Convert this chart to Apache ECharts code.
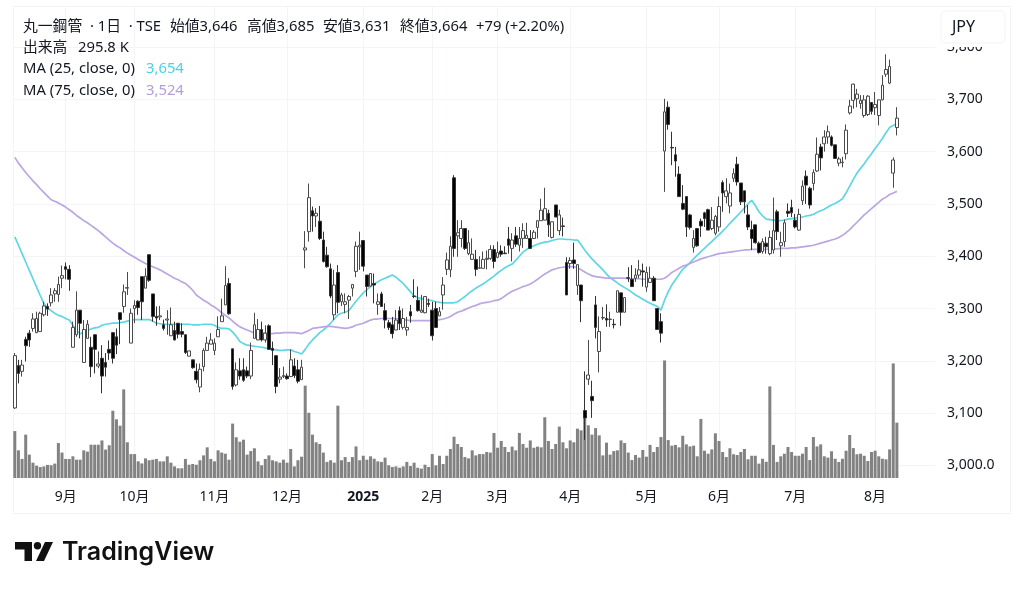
<!DOCTYPE html>
<html>
<head>
    <meta charset="utf-8">
    <title>丸一鋼管 日足</title>
    <script src="https://cdn.jsdelivr.net/npm/echarts@6/dist/echarts.min.js"></script>
    <style>
        html, body { margin: 0; padding: 0; background: #fff; }
    </style>
</head>
<body>
    <div id="main" style="width:1024px;height:590px;"></div>
    <script type="text/javascript">
        // 四本値（左から右へ1本ずつ、図から読み取り）
        var opens = [3110,3191,3180,3241,3253,3262,3254,3256,3288,3304,3311,3328,3327,3358,3380,3375,3226,3250,3297,3197,
            3243,3226,3250,3190,3205,3197,3222,3254,3246,3292,3304,3339,3234,3300,3314,3361,3339,3403,3328,3285,
            3284,3269,3278,3248,3258,3272,3256,3250,3209,3202,3180,3150,3189,3220,3232,3220,3246,3275,3307,3348,
            3223,3154,3181,3183,3181,3171,3243,3240,3260,3240,3267,3224,3210,3165,3170,3171,3170,3190,3183,3164,
            3412,3447,3487,3477,3467,3431,3402,3376,3288,3369,3313,3308,3316,3339,3371,3418,3430,3364,3343,3348,
            3308,3328,3296,3273,3269,3259,3296,3264,3259,3294,3324,3316,3293,3292,3310,3297,3300,3286,3326,3375,
            3374,3550,3439,3434,3453,3405,3394,3394,3377,3377,3394,3396,3413,3398,3410,3406,3433,3415,3439,3421,
            3434,3434,3434,3434,3455,3468,3469,3482,3436,3498,3449,3458,3388,3386,3393,3344,3345,3105,3165,3132,
            3307,3218,3282,3281,3279,3270,3293,3330,3293,3359,3356,3358,3364,3372,3341,3350,3358,3300,3275,3601,
            3685,3608,3594,3557,3501,3514,3479,3417,3453,3467,3483,3489,3453,3444,3456,3541,3514,3496,3549,3576,
            3540,3525,3479,3451,3460,3425,3409,3425,3405,3412,3485,3420,3428,3486,3493,3469,3450,3506,3553,3530,
            3539,3563,3609,3615,3628,3628,3613,3578,3579,3596,3674,3698,3701,3692,3669,3671,3694,3684,3669,3699,
            3748,3731,3559,3646];
        var closes = [3210,3176,3192,3229,3240,3280,3281,3291,3305,3299,3326,3334,3346,3363,3375,3356,3264,3297,3272,3260,
            3270,3189,3222,3194,3171,3188,3215,3205,3230,3279,3332,3340,3291,3306,3302,3313,3362,3354,3285,3282,
            3286,3262,3280,3269,3240,3251,3251,3216,3219,3187,3164,3184,3220,3234,3240,3234,3260,3286,3344,3290,
            3151,3183,3171,3163,3171,3220,3269,3260,3240,3253,3222,3220,3151,3169,3172,3166,3202,3172,3161,3188,
            3416,3512,3477,3482,3434,3390,3380,3324,3345,3312,3326,3313,3323,3346,3419,3421,3381,3342,3367,3345,
            3313,3304,3278,3264,3252,3278,3271,3281,3264,3286,3323,3296,3297,3323,3308,3248,3264,3294,3345,3393,
            3419,3415,3445,3453,3415,3426,3404,3375,3378,3394,3396,3413,3390,3407,3404,3405,3421,3431,3423,3434,
            3449,3440,3415,3446,3468,3488,3491,3460,3466,3475,3479,3457,3326,3392,3386,3384,3315,3091,3173,3124,
            3264,3256,3283,3278,3280,3269,3334,3293,3321,3358,3342,3364,3374,3370,3369,3358,3315,3260,3253,3676,
            3652,3607,3582,3514,3490,3456,3455,3434,3420,3458,3472,3450,3469,3476,3495,3521,3525,3521,3558,3542,
            3504,3504,3456,3434,3426,3407,3428,3418,3436,3449,3447,3426,3464,3482,3483,3456,3480,3534,3536,3498,
            3560,3595,3588,3628,3638,3612,3587,3586,3580,3641,3687,3729,3710,3698,3699,3706,3677,3690,3699,3727,
            3757,3763,3584,3664];
        var lows = [3108,3157,3170,3199,3227,3256,3253,3256,3285,3286,3304,3313,3313,3339,3356,3334,3226,3246,3243,3197,
            3243,3169,3176,3186,3138,3170,3202,3195,3213,3232,3292,3326,3234,3272,3288,3278,3339,3351,3275,3267,
            3278,3258,3250,3248,3239,3243,3245,3213,3209,3185,3157,3140,3180,3220,3232,3211,3246,3275,3307,3288,
            3145,3151,3164,3160,3167,3165,3243,3240,3237,3235,3222,3192,3138,3157,3167,3164,3169,3167,3157,3164,
            3377,3428,3447,3456,3431,3388,3378,3320,3278,3291,3305,3291,3280,3323,3360,3374,3371,3323,3342,3310,
            3288,3304,3262,3259,3243,3259,3259,3260,3248,3273,3320,3294,3292,3291,3303,3239,3264,3286,3298,3364,
            3360,3399,3399,3417,3412,3402,3393,3362,3376,3377,3375,3393,3377,3396,3399,3404,3405,3390,3418,3409,
            3416,3434,3415,3434,3434,3468,3469,3437,3434,3475,3440,3438,3326,3376,3376,3326,3274,3049,3154,3091,
            3243,3178,3278,3265,3265,3262,3293,3267,3293,3351,3342,3351,3358,3342,3332,3349,3315,3260,3235,3523,
            3642,3574,3552,3514,3488,3437,3451,3407,3418,3437,3456,3450,3450,3440,3447,3485,3501,3482,3542,3535,
            3498,3482,3450,3412,3424,3405,3405,3405,3402,3405,3431,3399,3418,3475,3475,3453,3449,3498,3500,3491,
            3526,3561,3564,3600,3615,3610,3587,3572,3570,3585,3671,3682,3685,3682,3665,3668,3671,3670,3650,3698,
            3743,3729,3531,3631];
        var highs = [3215,3202,3202,3246,3259,3291,3294,3294,3313,3310,3339,3339,3361,3382,3388,3383,3275,3333,3297,3278,
            3278,3246,3250,3218,3230,3215,3239,3254,3262,3292,3346,3370,3300,3316,3316,3361,3377,3403,3328,3304,
            3305,3279,3297,3302,3275,3272,3272,3250,3219,3202,3195,3195,3224,3246,3253,3243,3285,3319,3381,3358,
            3223,3197,3205,3205,3189,3235,3292,3280,3275,3268,3270,3237,3210,3186,3189,3176,3222,3205,3202,3202,
            3448,3539,3495,3492,3496,3447,3418,3386,3374,3383,3330,3329,3326,3346,3428,3447,3430,3364,3367,3367,
            3329,3332,3310,3278,3284,3297,3304,3300,3284,3307,3356,3342,3326,3324,3319,3313,3313,3303,3360,3407,
            3438,3555,3469,3469,3453,3450,3434,3412,3400,3409,3411,3421,3421,3428,3421,3419,3456,3444,3456,3456,
            3463,3464,3450,3450,3468,3510,3531,3489,3466,3498,3489,3474,3398,3398,3426,3384,3345,3180,3240,3162,
            3324,3285,3303,3308,3294,3280,3334,3330,3321,3379,3383,3377,3393,3386,3380,3380,3362,3300,3291,3701,
            3696,3638,3609,3572,3536,3514,3481,3450,3453,3472,3485,3491,3494,3479,3514,3545,3549,3539,3568,3590,
            3540,3525,3498,3468,3460,3428,3434,3437,3449,3512,3489,3447,3470,3501,3508,3481,3491,3545,3564,3533,
            3566,3627,3615,3641,3650,3631,3613,3590,3590,3652,3699,3730,3720,3708,3708,3708,3694,3714,3699,3746,
            3786,3776,3589,3685];

        // 出来高（千株）
        var volumes = [251,148,102,232,125,82,66,59,62,70,68,77,187,136,102,102,116,98,98,148,
            141,178,178,178,201,152,175,360,314,280,474,191,128,128,89,78,105,95,98,102,
            89,89,116,82,62,52,52,102,71,75,71,95,121,164,102,89,148,136,130,98,
            291,218,194,205,125,144,159,89,68,102,121,95,89,82,98,82,155,62,95,114,
            494,349,232,191,182,136,86,95,82,387,95,112,86,112,169,95,119,98,116,103,
            89,86,109,68,59,62,55,62,86,64,82,55,50,71,59,128,68,119,75,119,
            155,221,182,166,112,105,148,121,128,128,139,136,241,162,198,166,139,168,148,241,
            182,162,201,162,168,164,325,198,155,182,275,191,159,201,191,264,255,326,282,232,
            267,228,121,189,125,144,148,201,187,136,96,123,109,150,114,177,139,166,219,629,
            203,173,177,164,226,180,169,173,116,316,146,130,153,239,198,139,112,159,127,123,
            139,155,100,119,119,77,103,87,490,177,86,116,130,166,139,119,119,130,166,96,
            219,169,180,116,109,143,103,86,103,146,230,160,127,130,119,91,139,146,116,103,
            100,153,613,296];

        // 移動平均線
        var ma25 = [3437,3421,3405,3389,3373,3357,3341,3325,3310,3301,3296,3291,3287,3285,3281,3278,3268,3258,3252,3254,
            3258,3261,3263,3264,3268,3270,3271,3272,3272,3273,3274,3276,3278,3279,3279,3279,3279,3279,3276,3272,
            3271,3270,3270,3270,3270,3270,3270,3270,3270,3269,3269,3269,3270,3270,3270,3268,3264,3262,3262,3261,
            3255,3247,3237,3233,3230,3229,3228,3227,3226,3225,3223,3222,3221,3220,3220,3221,3221,3218,3216,3213,
            3222,3232,3240,3247,3254,3259,3265,3272,3280,3288,3291,3293,3296,3305,3314,3322,3330,3336,3342,3347,
            3351,3355,3358,3361,3364,3360,3354,3348,3340,3332,3324,3321,3319,3317,3316,3315,3313,3312,3311,3311,
            3311,3311,3313,3318,3323,3329,3334,3339,3343,3347,3352,3357,3362,3368,3373,3378,3382,3385,3392,3400,
            3408,3413,3417,3420,3423,3425,3427,3428,3430,3432,3433,3433,3432,3432,3431,3431,3422,3412,3403,3395,
            3388,3381,3374,3366,3359,3354,3349,3344,3340,3336,3331,3326,3322,3318,3314,3310,3307,3304,3297,3316,
            3332,3345,3355,3365,3375,3381,3388,3395,3402,3409,3415,3422,3428,3435,3441,3448,3455,3463,3470,3477,
            3485,3492,3500,3507,3497,3485,3477,3471,3470,3469,3468,3468,3469,3471,3472,3473,3474,3475,3477,3478,
            3480,3484,3487,3490,3494,3498,3501,3505,3510,3521,3534,3547,3559,3568,3577,3587,3596,3606,3615,3625,
            3636,3646,3650,3654];
        var ma75 = [3589,3578,3569,3560,3552,3544,3537,3529,3522,3515,3508,3505,3502,3498,3494,3489,3484,3478,3473,3468,
            3464,3459,3454,3449,3443,3437,3431,3425,3420,3416,3411,3406,3402,3398,3394,3390,3386,3383,3380,3377,
            3374,3370,3366,3362,3358,3355,3351,3348,3342,3335,3326,3321,3316,3312,3307,3303,3298,3292,3287,3282,
            3276,3270,3265,3262,3259,3256,3253,3253,3253,3253,3252,3252,3253,3253,3254,3254,3254,3254,3253,3252,
            3255,3258,3262,3263,3264,3265,3266,3266,3265,3264,3263,3262,3263,3265,3268,3270,3272,3275,3278,3280,
            3280,3281,3281,3281,3281,3281,3280,3279,3278,3277,3277,3277,3277,3277,3277,3277,3278,3279,3280,3282,
            3285,3289,3293,3295,3298,3301,3304,3306,3309,3311,3312,3313,3315,3316,3319,3324,3329,3333,3336,3339,
            3342,3344,3347,3351,3356,3361,3366,3370,3374,3376,3378,3379,3380,3380,3380,3378,3374,3370,3366,3363,
            3361,3360,3359,3358,3358,3358,3358,3358,3358,3357,3357,3357,3357,3356,3356,3356,3356,3356,3356,3358,
            3363,3369,3373,3377,3381,3383,3386,3389,3392,3395,3397,3399,3401,3403,3405,3406,3407,3408,3409,3410,
            3411,3412,3412,3413,3413,3413,3413,3413,3414,3414,3414,3415,3415,3415,3416,3416,3417,3418,3419,3420,
            3421,3423,3425,3427,3429,3431,3433,3436,3440,3445,3451,3458,3465,3472,3479,3485,3491,3497,3503,3509,
            3513,3518,3521,3524];

        // 時間軸の目盛り
        var monthLabels = ['9月','10月','11月','12月','2025','2月','3月','4月','5月','6月','7月','8月'];
        var monthStarts = [14,33,55,75,96,115,133,153,174,194,215,237];
        var slotCount = 254; // 右側の余白を含む本数

        var categories = [];
        for (var i = 0; i < slotCount; i++) {
            var m = monthStarts.indexOf(i);
            categories.push(m >= 0 ? monthLabels[m] : '');
        }
        var candles = [];
        for (var j = 0; j < opens.length; j++) {
            candles.push([opens[j], closes[j], lows[j], highs[j]]);
        }
        var isMonth = function (index, value) { return value !== ''; };

        var font = '"Noto Sans", "Noto Sans CJK JP", sans-serif';
        var textColor = '#131722';
        var gridColor = '#f3f4f7';
        var legendFont = '14.8px ' + font;

        function legendText(str, x, y, color) {
            return { type: 'text', z: 10, x: x, y: y, style: { text: str, fill: color || textColor, font: legendFont, textVerticalAlign: 'middle' } };
        }

        var myChart = echarts.init(document.getElementById('main'), null, { renderer: 'canvas' });

        var option = {
            animation: false,
            backgroundColor: '#ffffff',
            textStyle: { fontFamily: font },
            grid: [
                { left: 13, width: 922, top: 47, height: 418.5 },   // 価格
                { left: 13, width: 922, top: 6, height: 472 }       // 出来高と時間軸
            ],
            xAxis: [
                {
                    type: 'category', gridIndex: 0, data: categories,
                    axisLine: { show: false }, axisTick: { show: false },
                    axisLabel: { show: false }, splitLine: { show: false }
                },
                {
                    type: 'category', gridIndex: 1, data: categories,
                    axisLine: { show: false }, axisTick: { show: false },
                    axisLabel: {
                        interval: isMonth, color: textColor, fontSize: 14, margin: 12, fontFamily: font,
                        formatter: function (v) { return v === '2025' ? '{y|2025}' : v; },
                        rich: { y: { fontWeight: 'bold', fontSize: 14, color: textColor, fontFamily: font } }
                    },
                    splitLine: { show: true, interval: isMonth, alignWithLabel: true, lineStyle: { color: gridColor, width: 1 } }
                }
            ],
            yAxis: [
                {
                    type: 'value', gridIndex: 0, position: 'right', min: 3000, max: 3800, interval: 100,
                    axisLine: { show: false }, axisTick: { show: false },
                    axisLabel: {
                        color: textColor, fontSize: 14, margin: 12, fontFamily: font,
                        formatter: function (v) {
                            return v === 3000 ? '3,000.0' : String(v).replace(/(\d)(\d{3})$/, '$1,$2');
                        }
                    },
                    splitLine: { show: true, lineStyle: { color: gridColor, width: 1 } }
                },
                {
                    type: 'value', gridIndex: 1, min: 0, max: 2525, show: false
                }
            ],
            series: [
                {
                    name: '出来高', type: 'bar', xAxisIndex: 1, yAxisIndex: 1, data: volumes,
                    barWidth: 3, itemStyle: { color: '#828282' }, z: 1
                },
                {
                    name: 'MA25', type: 'line', xAxisIndex: 0, yAxisIndex: 0, data: ma25,
                    symbol: 'none', smooth: false, lineStyle: { color: '#5fd6e3', width: 1.7 }, z: 2
                },
                {
                    name: 'MA75', type: 'line', xAxisIndex: 0, yAxisIndex: 0, data: ma75,
                    symbol: 'none', smooth: false, lineStyle: { color: '#bba6e2', width: 1.7 }, z: 2
                },
                {
                    name: '丸一鋼管', type: 'candlestick', xAxisIndex: 0, yAxisIndex: 0, data: candles,
                    barWidth: 3.2,
                    itemStyle: { color: '#ffffff', color0: '#000000', borderColor: '#4a4a4a', borderColor0: '#333333', borderWidth: 1 },
                    z: 3
                }
            ],
            graphic: [
                // 外枠
                { type: 'rect', z: 0, silent: true, shape: { x: 13.5, y: 6.5, width: 997, height: 507 },
                  style: { fill: 'none', stroke: '#f1f3f8', lineWidth: 1 } },
                // 凡例
                legendText('丸一鋼管  · 1日  · TSE', 23, 26.5),
                legendText('始値3,646', 170, 26.5),
                legendText('高値3,685', 247, 26.5),
                legendText('安値3,631', 323, 26.5),
                legendText('終値3,664', 400, 26.5),
                legendText('+79 (+2.20%)', 476, 26.5),
                legendText('出来高', 23, 47.5),
                legendText('295.8 K', 78, 47.5),
                legendText('MA (25, close, 0)', 23, 69),
                legendText('3,654', 146, 69, '#4dd0e1'),
                legendText('MA (75, close, 0)', 23, 91),
                legendText('3,524', 146, 91, '#b39ddb'),
                // 通貨ボタン（下の目盛りの上半分を隠す）
                { type: 'rect', z: 19, shape: { x: 940, y: 8, width: 66, height: 39 }, style: { fill: '#ffffff' } },
                { type: 'rect', z: 20, shape: { x: 941, y: 11, width: 64, height: 32, r: 5 },
                  style: { fill: '#ffffff', stroke: '#f1f3f8', lineWidth: 1 } },
                { type: 'text', z: 21, x: 952, y: 27, style: { text: 'JPY', fill: textColor, font: '16px ' + font, textVerticalAlign: 'middle' } },
                // ロゴ
                { type: 'polygon', z: 10, shape: { points: [[15, 542], [32, 542], [32, 561], [24.5, 561], [24.5, 549.5], [15, 549.5]] }, style: { fill: '#111111' } },
                { type: 'circle', z: 10, shape: { cx: 37.5, cy: 545.7, r: 3.7 }, style: { fill: '#111111' } },
                { type: 'polygon', z: 10, shape: { points: [[45, 542], [53, 542], [44, 561], [36, 561]] }, style: { fill: '#111111' } },
                { type: 'text', z: 10, x: 62, y: 552, style: { text: 'TradingView', fill: '#111111', font: '600 25px Inter, Roboto, sans-serif', textVerticalAlign: 'middle' } }
            ]
        };

        myChart.setOption(option);
    </script>
</body>
</html>
